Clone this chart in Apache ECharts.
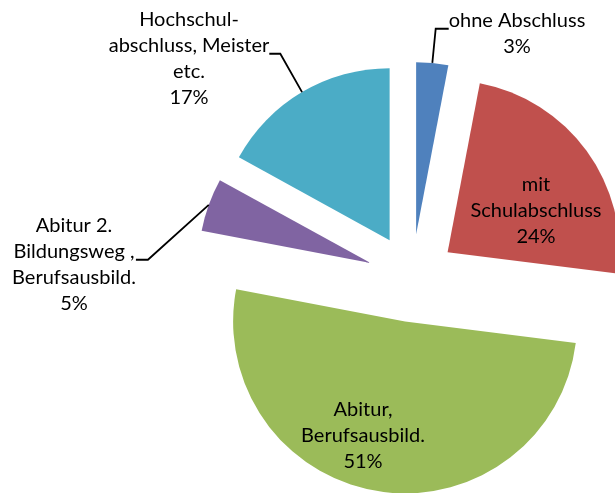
<!DOCTYPE html>
<html>
<head>
<meta charset="utf-8">
<script src="https://cdn.jsdelivr.net/npm/echarts@6/dist/echarts.min.js"></script>
<style>
html,body{margin:0;padding:0;background:#fff;}
#chart{width:615px;height:493px;}
</style>
</head>
<body>
<div id="chart"></div>
<script>
const categories = ['ohne Abschluss', 'mit Schulabschluss', 'Abitur, Berufsausbild.', 'Abitur 2. Bildungsweg , Berufsausbild.', 'Hochschulabschluss, Meister etc.'];
const labelTexts = ['ohne Abschluss', 'mit\nSchulabschluss', 'Abitur,\nBerufsausbild.', 'Abitur 2.\nBildungsweg ,\nBerufsausbild.', 'Hochschul-\nabschluss, Meister\netc.'];
const values = [3, 24, 51, 5, 17];
const colors = ['#4F81BD', '#C0504D', '#9BBB59', '#8064A2', '#4BACC6'];

// layout only: label anchor points and which labels sit outside with a leader line
const labelPos = [[517, 27], [536, 211], [363, 436], [74, 258], [189, 52]];
const outside = [true, false, false, true, true];
const leaderLen2 = [13, 0, 0, 12, 11];

const CENTER = [412, 278];
const R = 172;
const EXPLODE = 44;
const FONT = 'Lato';

function labelFormatter(p) {
  const lines = (labelTexts[p.dataIndex] + '\n' + p.value + '%').split('\n');
  const body = lines.map(l => '{t|' + l + '}').join('\n');
  // a thin spacer line on top lets the leader line meet the label a little above its middle
  return outside[p.dataIndex] ? '{sp| }\n' + body : body;
}

const chart = echarts.init(document.getElementById('chart'), null, {renderer: 'canvas'});
chart.setOption({
  animation: false,
  backgroundColor: '#fff',
  series: [{
    // exploded pie (all slices pulled out)
    type: 'pie',
    z: 2,
    center: CENTER,
    radius: [0, R],
    startAngle: 90,
    clockwise: true,
    selectedMode: 'multiple',
    selectedOffset: EXPLODE,
    emphasis: {disabled: true},
    label: {show: false},
    labelLine: {show: false},
    data: categories.map((c, i) => ({
      name: c, value: values[i], selected: true,
      itemStyle: {color: colors[i]}
    }))
  }, {
    // label carrier: same slices, invisible, reaching the outer edge of the exploded slices
    type: 'pie',
    z: 3,
    silent: true,
    center: CENTER,
    radius: [0, R + EXPLODE],
    startAngle: 90,
    clockwise: true,
    selectedMode: false,
    emphasis: {disabled: true},
    itemStyle: {color: 'rgba(0,0,0,0)', borderWidth: 0},
    data: categories.map((c, i) => ({
      name: c, value: values[i],
      label: {position: outside[i] ? 'outside' : 'inside'},
      labelLine: {show: outside[i], length: 20, length2: leaderLen2[i]}
    })),
    label: {
      show: true,
      formatter: labelFormatter,
      align: 'center',
      rich: {
        sp: {fontSize: 1, lineHeight: 14, fontFamily: FONT},
        t: {fontFamily: FONT, fontSize: 20, lineHeight: 26, color: '#000', align: 'center'}
      }
    },
    labelLine: {
      show: true,
      lineStyle: {color: '#000', width: 1.8}
    },
    labelLayout: function (params) {
      const p = labelPos[params.dataIndex];
      return {x: p[0], y: p[1], align: 'center', verticalAlign: 'middle'};
    }
  }]
});
</script>
</body>
</html>
